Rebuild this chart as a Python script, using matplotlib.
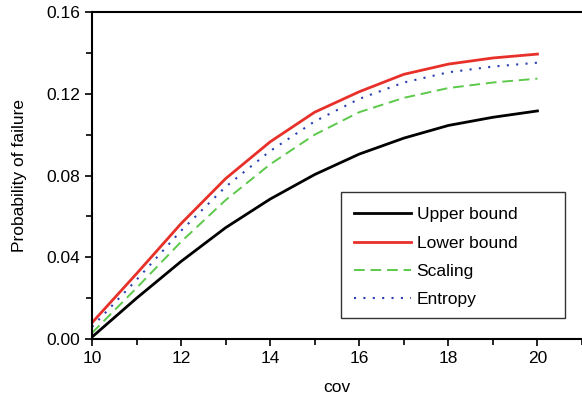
import matplotlib
matplotlib.use("Agg")
import matplotlib.pyplot as plt
from matplotlib.ticker import MultipleLocator, FormatStrFormatter
from matplotlib.patches import Rectangle

plt.rcParams['font.family'] = ['Liberation Sans', 'DejaVu Sans']

cov = [10, 11, 12, 13, 14, 15, 16, 17, 18, 19, 20]
upper = [0.001, 0.020, 0.038, 0.0545, 0.0685, 0.0805, 0.0905, 0.0983, 0.1045, 0.1085, 0.1116]
lower = [0.008, 0.032, 0.0565, 0.0785, 0.0965, 0.111, 0.121, 0.1295, 0.1345, 0.1375, 0.1394]
scaling = [0.003, 0.025, 0.0476, 0.068, 0.0855, 0.100, 0.111, 0.118, 0.1228, 0.1255, 0.1274]
entropy = [0.006, 0.029, 0.053, 0.0745, 0.092, 0.1065, 0.1175, 0.1255, 0.1305, 0.1333, 0.1352]

fig = plt.figure(figsize=(5.82, 3.99), dpi=100)
ax = fig.add_axes([0.158, 0.150, 0.842, 0.820])

ax.plot(cov, upper, color='black', lw=2.0, label='Upper bound')
ax.plot(cov, lower, color='#e8302a', lw=2.0, label='Lower bound')
ax.plot(cov, scaling, color='#5cc94a', lw=1.4, ls=(0, (5.5, 3)), label='Scaling')
ax.plot(cov, entropy, color='#2a3fb0', lw=1.5, ls=(0, (1, 3.5)), label='Entropy')

ax.set_xlim(10, 21)
ax.set_ylim(0, 0.16)
ax.xaxis.set_major_locator(MultipleLocator(2))
ax.xaxis.set_minor_locator(MultipleLocator(1))
ax.yaxis.set_major_locator(MultipleLocator(0.04))
ax.yaxis.set_minor_locator(MultipleLocator(0.02))
ax.yaxis.set_major_formatter(FormatStrFormatter('%.2f'))
ax.tick_params(which='both', direction='out', labelsize=12.5, width=1.2)
ax.tick_params(which='major', length=5)
ax.tick_params(which='minor', length=4)
ax.spines['right'].set_visible(False)
for s in ['left', 'bottom', 'top']:
    ax.spines[s].set_linewidth(1.5)

ax.set_xlabel('cov', fontsize=12.5, labelpad=10)
ax.set_ylabel('Probability of failure', fontsize=12.5, labelpad=14)

# legend frame drawn separately to match the wide right padding
ax.add_patch(Rectangle((0.508, 0.064), 0.457, 0.3855, transform=ax.transAxes,
                       fill=True, facecolor='white', edgecolor='#333333', lw=1.0, zorder=4))
leg = ax.legend(loc='upper left', bbox_to_anchor=(0.535, 0.403), borderaxespad=0,
                fontsize=12.5, frameon=False, handlelength=3.25, labelspacing=0.76,
                borderpad=0, handletextpad=0.35)
leg.set_zorder(5)

fig.savefig('out.png', dpi=100)
